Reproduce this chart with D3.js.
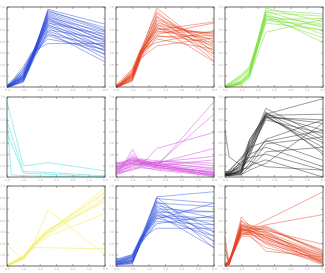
<!DOCTYPE html>
<html>
<head>
<meta charset="utf-8">
<script src="https://cdn.jsdelivr.net/npm/d3@7"></script>
<style>
  body { margin: 0; background: #fff; }
  svg { display: block; }
  .tick text { font-family: "DejaVu Sans", sans-serif; fill: #aaa; }
</style>
</head>
<body>
<div class="chart"></div>
<script>
// 3x3 small multiples of expression profiles, one cluster per panel

var w = 325, h = 273;

// sample times (x) and axis ticks
var times = [0, 0.25, 1, 1.5, 2.5, 6];
var xTicks = [0, 1, 2, 3, 4, 5, 6];
var yTicks = [0, 1, 2, 3, 4, 5, 6, 7];

var colors = ['#2946d8', '#e2401f', '#7ee23e', '#7fe6e6', '#d65ae0', '#222222', '#f2ee5a', '#2f4fd6', '#e3421f'];
var opacities = [0.5, 0.5, 0.6, 0.8, 0.6, 0.5, 0.65, 0.5, 0.5];

// one row per gene, values at each time
var cluster1 = [
  [0.0,0.2,0.8,2.4,6.8,5.5], [0.1,0.3,1.0,2.5,6.6,5.2], [0.0,0.1,0.7,2.3,6.5,4.9],
  [0.0,0.2,0.9,2.6,6.4,4.6], [0.1,0.3,1.2,2.7,6.3,4.3], [0.0,0.1,0.6,2.2,6.2,4.0],
  [0.0,0.2,0.8,2.4,6.1,4.8], [0.1,0.4,1.3,2.8,6.0,3.7], [0.0,0.1,0.5,2.1,5.9,3.4],
  [0.0,0.2,0.9,2.5,5.8,4.4], [0.1,0.3,1.1,2.6,5.7,3.1], [0.0,0.1,0.7,2.3,5.6,4.6],
  [0.0,0.2,0.8,2.4,5.5,2.8], [0.2,0.5,1.5,2.9,5.4,3.9], [0.0,0.1,0.6,2.2,5.3,3.5],
  [0.0,0.2,1.0,2.5,5.2,2.5], [0.1,0.3,1.2,2.7,5.0,4.2], [0.0,0.1,0.4,2.0,4.9,3.2],
  [0.0,0.2,0.9,2.4,4.8,2.2], [0.1,0.3,1.4,2.6,4.6,3.6], [0.0,0.1,0.7,2.3,4.5,2.9],
  [0.0,0.2,1.6,2.8,4.2,3.3], [0.1,0.4,1.8,3.0,3.8,3.8], [0.0,0.1,0.5,2.1,6.7,5.0],
  [0.0,0.3,1.0,2.5,6.0,4.1]
];
var cluster2 = [
  [0.0,0.2,1.0,3.0,6.9,3.0], [0.1,0.3,1.2,3.2,6.6,2.6], [0.0,0.1,0.8,2.8,6.4,3.4],
  [0.0,0.2,1.1,2.9,6.2,2.3], [0.1,0.4,1.4,3.1,6.1,3.7], [0.0,0.1,0.7,2.6,5.9,4.0],
  [0.0,0.2,0.9,2.8,5.8,3.2], [0.1,0.3,1.3,3.0,5.6,4.4], [0.0,0.1,0.6,2.5,5.5,2.9],
  [0.0,0.2,1.0,2.9,5.4,4.6], [0.1,0.3,1.2,3.1,5.2,3.6], [0.0,0.1,0.8,2.7,5.1,4.7],
  [0.0,0.2,0.9,2.8,5.0,5.7], [0.2,0.5,1.6,3.3,4.9,4.2], [0.0,0.1,0.7,2.6,4.8,4.8],
  [0.0,0.2,1.0,2.9,4.6,5.6], [0.1,0.3,1.1,3.0,4.5,3.9], [0.0,0.1,0.5,2.4,4.4,4.5],
  [0.0,0.2,0.9,2.8,4.2,3.3], [0.1,0.3,1.5,3.2,3.9,4.9], [0.0,0.1,0.6,2.5,3.6,4.3],
  [0.0,0.2,1.2,3.0,5.3,2.2]
];
var cluster3 = [
  [0.0,0.1,0.4,1.2,6.9,5.7], [0.0,0.0,0.3,0.9,6.7,6.4], [0.0,0.1,0.5,1.4,6.6,5.2],
  [0.1,0.2,0.8,1.6,6.5,6.2], [0.0,0.1,0.3,1.0,6.4,4.6], [0.0,0.1,0.6,1.3,6.2,5.5],
  [0.1,0.3,1.1,1.8,6.1,4.9], [0.0,0.1,0.4,1.1,6.0,4.3], [0.0,0.0,0.2,0.8,5.9,6.0],
  [0.1,0.2,0.9,1.5,5.8,5.4], [0.0,0.1,0.5,1.2,5.6,5.0], [0.0,0.1,0.3,1.0,4.8,5.9],
  [0.1,0.3,1.0,1.7,6.3,3.9]
];
var cluster4 = [
  [6.6,5.2,0.97,1.05,1.26,0.54], [4.9,3.8,0.49,0.45,0.4,0.1],
  [3.9,3.0,0.34,0.3,0.25,0.0], [5.2,0.2,0.1,0.1,0.05,0.0]
];
var cluster5 = [
  [0.4,0.6,2.4,1.2,0.9,6.6], [0.8,1.0,1.6,1.3,1.1,5.5], [0.3,0.5,1.1,1.0,2.5,3.9],
  [1.2,1.3,1.4,1.5,1.2,2.5], [0.6,0.8,1.2,1.1,1.3,1.8], [1.0,1.1,1.7,1.4,1.0,1.5],
  [0.2,0.4,0.8,0.9,1.4,1.2], [0.5,0.7,1.3,1.2,1.1,0.6], [1.3,1.2,1.5,1.3,1.0,0.4],
  [0.7,0.9,1.8,1.5,1.2,0.3], [0.9,1.0,1.2,1.1,0.9,0.2], [0.3,0.5,1.0,1.0,0.8,0.5],
  [1.1,1.2,1.6,1.4,1.1,0.1], [0.4,0.6,0.9,1.2,1.3,0.7], [0.8,0.9,1.4,1.3,1.0,0.3],
  [0.2,0.3,0.7,0.8,0.7,0.2], [1.2,1.1,1.3,1.4,1.2,0.8], [0.6,0.7,1.1,1.2,0.9,0.0],
  [0.5,0.8,2.0,1.3,1.0,0.4], [1.0,0.9,1.2,1.6,1.4,1.0], [0.3,0.4,0.6,0.9,0.6,0.1],
  [0.7,0.8,1.5,1.1,0.8,0.2]
];
var cluster6 = [
  [0.3,0.2,0.4,2.6,5.5,6.85], [0.2,0.1,0.6,3.3,5.4,5.5], [4.1,1.75,1.0,2.0,5.2,5.0],
  [0.1,0.3,0.5,2.8,5.3,4.7], [0.2,0.2,1.45,3.2,5.5,4.1], [0.3,0.4,0.8,2.5,6.0,3.5],
  [0.1,0.1,0.3,2.2,5.6,3.2], [0.4,0.5,1.2,3.0,5.3,2.6], [0.2,0.3,0.7,1.8,5.4,2.2],
  [0.1,0.2,0.4,1.2,3.3,5.0], [0.3,0.6,1.6,2.6,3.1,4.1], [0.2,0.1,0.2,0.9,2.9,3.5],
  [0.5,0.4,1.0,1.5,3.2,1.45], [0.1,0.2,0.6,2.0,2.6,0.9], [0.3,0.3,1.3,1.7,2.0,0.6],
  [0.2,0.2,0.5,1.0,1.5,0.0], [0.1,0.4,0.9,1.4,0.9,0.6], [0.4,0.2,1.1,2.4,5.2,3.0],
  [0.2,0.3,0.3,3.0,5.7,2.0], [0.3,0.1,0.7,0.8,2.2,2.6], [0.2,0.5,1.75,2.2,5.0,3.8],
  [0.1,0.2,0.2,0.6,1.2,4.7]
];
var cluster7 = [
  [0.0,0.2,0.7,1.6,3.0,6.8], [0.1,0.3,0.8,1.7,3.1,6.3], [0.0,0.2,0.6,1.5,2.9,6.0],
  [0.0,0.1,0.7,1.6,2.8,5.8], [0.1,0.3,0.9,1.8,3.2,5.6], [0.0,0.2,0.6,1.4,2.6,4.6],
  [2.1,1.5,0.6,1.5,4.9,1.0], [0.0,0.2,0.7,1.6,1.6,1.5], [0.1,0.2,0.8,1.7,3.0,6.5]
];
var cluster8 = [
  [0.3,0.5,0.8,2.3,6.05,6.5], [0.1,0.2,0.5,2.1,5.9,5.5], [0.6,0.7,1.0,2.5,5.7,3.0],
  [0.2,0.3,0.4,2.0,5.5,5.2], [0.4,0.4,0.7,2.2,5.3,4.2], [0.1,0.1,0.3,1.9,5.2,2.6],
  [0.5,0.6,0.9,2.4,5.0,4.75], [0.2,0.2,0.2,2.0,4.9,3.6], [0.3,0.4,0.6,2.3,4.8,2.15],
  [0.7,0.6,1.0,2.5,4.6,3.0], [0.1,0.2,0.4,2.1,4.5,1.6], [0.4,0.5,0.8,2.2,4.4,4.2],
  [0.2,0.3,0.5,2.0,4.2,2.6], [0.5,0.4,0.7,2.3,4.1,5.5], [0.3,0.2,0.3,1.9,3.9,3.6],
  [0.1,0.3,0.6,2.4,3.3,3.3], [0.6,0.5,0.9,2.2,6.0,2.15], [0.2,0.1,0.2,2.0,4.7,4.75],
  [0.4,0.3,0.5,2.1,5.6,1.6], [0.3,0.4,0.8,2.4,4.3,3.9], [0.1,0.2,0.4,2.0,3.7,4.4]
];
var cluster9 = [
  [2.5,0.2,3.6,3.4,2.8,0.8], [1.9,0.1,4.3,3.5,2.5,0.5], [1.0,0.3,4.0,3.3,4.0,6.5],
  [0.1,0.5,3.6,3.2,3.6,4.5], [0.1,0.2,3.4,3.1,3.3,1.3], [0.0,0.4,3.2,3.0,3.0,1.0],
  [0.1,0.3,3.0,2.9,2.7,0.6], [0.2,0.6,2.8,2.8,2.4,0.3], [0.0,0.2,3.5,3.4,3.1,1.9],
  [0.1,0.1,3.3,3.2,2.2,0.4], [0.0,0.3,3.1,3.0,1.9,0.1], [0.2,0.4,2.9,2.7,1.3,0.8],
  [0.1,0.2,3.7,3.5,3.4,1.1], [0.0,0.5,3.2,3.1,2.6,0.2], [0.1,0.3,2.7,2.8,2.0,0.5],
  [0.3,0.2,3.0,2.9,3.5,1.2], [0.0,0.1,3.4,3.3,2.9,0.7], [0.1,0.4,3.1,3.2,2.3,0.9],
  [0.2,0.3,2.6,2.6,1.6,0.4], [0.0,0.2,3.6,3.3,3.2,1.4], [1.5,0.3,3.3,3.0,2.5,0.6],
  [0.1,0.2,3.9,3.6,3.0,0.3], [0.0,0.3,2.8,2.9,2.1,0.2], [0.1,0.1,3.2,3.1,2.7,1.0]
];

var clusters = [cluster1, cluster2, cluster3, cluster4, cluster5, cluster6, cluster7, cluster8, cluster9];

var colLeft = [7, 116, 225],
    rowTop = [7, 97, 186],
    pw = 98, ph = 80;

var x = d3.scaleLinear().domain([0, 6]).range([0, pw]);
var y = d3.scaleLinear().domain([0, 7]).range([ph, 0]);

var line = d3.line()
  .x(function(d, i) { return x(times[i]); })
  .y(function(d) { return y(d); });

var svg = d3.select('.chart').append('svg')
  .attr('width', w)
  .attr('height', h);

var panels = svg.selectAll('g.panel')
    .data(clusters)
  .enter().append('g')
    .attr('class', 'panel')
    .attr('transform', function(d, i) {
      return 'translate(' + [colLeft[i % 3], rowTop[Math.floor(i / 3)]] + ')';
    });

panels.each(function(rows, i) {
  var g = d3.select(this);

  g.selectAll('path.gene')
      .data(rows)
    .enter().append('path')
      .attr('class', 'gene')
      .attr('d', line)
      .attr('fill', 'none')
      .attr('stroke', colors[i])
      .attr('stroke-opacity', opacities[i])
      .attr('stroke-width', 0.9);

  // MATLAB style: ticks pointing in on every side
  var bottom = d3.axisBottom(x).tickValues(xTicks).tickSizeInner(-2).tickSizeOuter(0).tickPadding(2);
  var left = d3.axisLeft(y).tickValues(yTicks).tickSizeInner(-2).tickSizeOuter(0).tickPadding(2);
  var top = d3.axisTop(x).tickValues(xTicks).tickSizeInner(-2).tickSizeOuter(0).tickFormat('');
  var right = d3.axisRight(y).tickValues(yTicks).tickSizeInner(-2).tickSizeOuter(0).tickFormat('');

  g.append('g').attr('transform', 'translate(0,' + ph + ')').call(bottom);
  g.append('g').call(left);
  g.append('g').call(top);
  g.append('g').attr('transform', 'translate(' + pw + ',0)').call(right);

  g.selectAll('.domain').remove();
  g.selectAll('.tick line').attr('stroke', '#666').attr('stroke-width', 0.5);
  g.selectAll('.tick text').attr('font-size', 3);

  g.append('rect')
    .attr('width', pw)
    .attr('height', ph)
    .attr('fill', 'none')
    .attr('stroke', '#444')
    .attr('stroke-width', 0.8);
});
</script>
</body>
</html>
